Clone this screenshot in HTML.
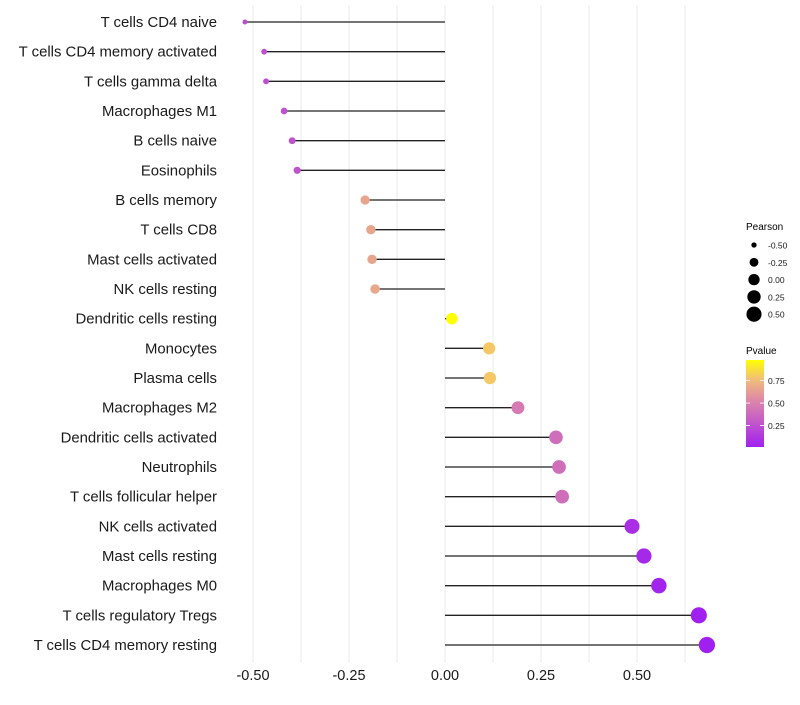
<!DOCTYPE html>
<html><head><meta charset="utf-8">
<style>
body{margin:0;background:#fff;}
svg text{font-family:"Liberation Sans",sans-serif;}
</style></head>
<body>
<svg id="chart" width="800" height="700" xmlns="http://www.w3.org/2000/svg">
<defs>
<linearGradient id="pgrad" x1="0" y1="1" x2="0" y2="0">
<stop offset="0" stop-color="#A020F0"/>
<stop offset="0.3" stop-color="#C45BC8"/>
<stop offset="0.55" stop-color="#DE8AA6"/>
<stop offset="0.78" stop-color="#F2BE78"/>
<stop offset="1" stop-color="#FFFF00"/>
</linearGradient>
</defs>
<g id="grid"></g>
<g id="marks"></g>
<g id="axes"></g>
<g id="legend">
<text x="746" y="230" font-size="10">Pearson</text>
<text x="746" y="354" font-size="10">Pvalue</text>
<rect x="746" y="360" width="18" height="87" fill="url(#pgrad)"/>
</g>
</svg>
<script>
const categories=["T cells CD4 naive","T cells CD4 memory activated","T cells gamma delta","Macrophages M1","B cells naive","Eosinophils","B cells memory","T cells CD8","Mast cells activated","NK cells resting","Dendritic cells resting","Monocytes","Plasma cells","Macrophages M2","Dendritic cells activated","Neutrophils","T cells follicular helper","NK cells activated","Mast cells resting","Macrophages M0","T cells regulatory  Tregs","T cells CD4 memory resting"];
const pearson=[-0.521,-0.471,-0.466,-0.419,-0.398,-0.385,-0.208,-0.193,-0.190,-0.182,0.018,0.115,0.117,0.190,0.289,0.297,0.305,0.487,0.518,0.557,0.661,0.682];
const pvalue=[0.22,0.24,0.24,0.25,0.26,0.26,0.66,0.66,0.66,0.67,0.98,0.8,0.8,0.46,0.4,0.4,0.4,0.08,0.05,0.03,0.01,0.01];
const xTicks=[-0.5,-0.25,0,0.25,0.5];
const xTickLabels=["-0.50","-0.25","0.00","0.25","0.50"];
const sizeLegendVals=[-0.5,-0.25,0,0.25,0.5];
const sizeLegendLabels=["-0.50","-0.25","0.00","0.25","0.50"];
const colorTicks=[0.25,0.5,0.75];
const colorTickLabels=["0.25","0.50","0.75"];

const NS="http://www.w3.org/2000/svg";
const xs=v=>445+v*384;
const ys=i=>22+i*(623/21);
const rs=v=>Math.sqrt(6+(v+0.52)/1.2*60);
const cy=p=>447-(p-0.01)/0.97*87;
function lerp(a,b,t){return a+(b-a)*t;}
const stops=[[0,[160,32,240]],[0.3,[196,91,200]],[0.55,[222,138,166]],[0.78,[242,190,120]],[1,[255,255,0]]];
function col(p){let t=Math.max(0,Math.min(1,(p-0.01)/0.97));for(let k=1;k<stops.length;k++){if(t<=stops[k][0]){const a=stops[k-1],b=stops[k];const u=(t-a[0])/(b[0]-a[0]);return "rgb("+a[1].map((c,j)=>Math.round(lerp(c,b[1][j],u))).join(",")+")";}}return "rgb(255,255,0)";}
function mk(tag,attrs,parent){const e=document.createElementNS(NS,tag);for(const k in attrs)e.setAttribute(k,attrs[k]);parent.appendChild(e);return e;}
const grid=document.getElementById('grid'),marks=document.getElementById('marks'),axes=document.getElementById('axes'),legend=document.getElementById('legend');
for(let v=-0.5;v<=0.625+1e-9;v+=0.125){
  const l=mk('line',{x1:xs(v),x2:xs(v),y1:5,y2:663,stroke:'#ebebeb','stroke-width':1},grid);
  
  
}
categories.forEach((c,i)=>{
  const y=ys(i);
  const t=mk('text',{x:217,y:y+5,'font-size':14.9,'text-anchor':'end',fill:'#1a1a1a'},axes);
  t.textContent=c;
  
  
  const s=mk('line',{x1:xs(0),x2:xs(pearson[i]),y1:y,y2:y,stroke:'#222','stroke-width':1.3},marks);
  
  
  const p=mk('circle',{cx:xs(pearson[i]),cy:y,r:rs(pearson[i]),fill:col(pvalue[i])},marks);
  
  
});
xTicks.forEach((v,i)=>{
  const t=mk('text',{x:xs(v),y:680,'font-size':14.5,'text-anchor':'middle',fill:'#1a1a1a'},axes);
  t.textContent=xTickLabels[i];
  
  
});
sizeLegendVals.forEach((v,i)=>{
  const y=245+i*17.3;
  const c=mk('circle',{cx:754,cy:y,r:rs(v),fill:'#000'},legend);
  
  
  const t=mk('text',{x:768,y:y+3.5,'font-size':8.5,fill:'#1a1a1a'},legend);
  t.textContent=sizeLegendLabels[i];
  
  
});
colorTicks.forEach((v,i)=>{
  const y=cy(v);
  const a=mk('line',{x1:746,x2:750,y1:y,y2:y,stroke:'#fff','stroke-width':0.8},legend);
  
  
  const b=mk('line',{x1:760,x2:764,y1:y,y2:y,stroke:'#fff','stroke-width':0.8},legend);
  
  
  const t=mk('text',{x:768,y:y+3.5,'font-size':8.5,fill:'#1a1a1a'},legend);
  t.textContent=colorTickLabels[i];
  
  
});
</script>
</body></html>
